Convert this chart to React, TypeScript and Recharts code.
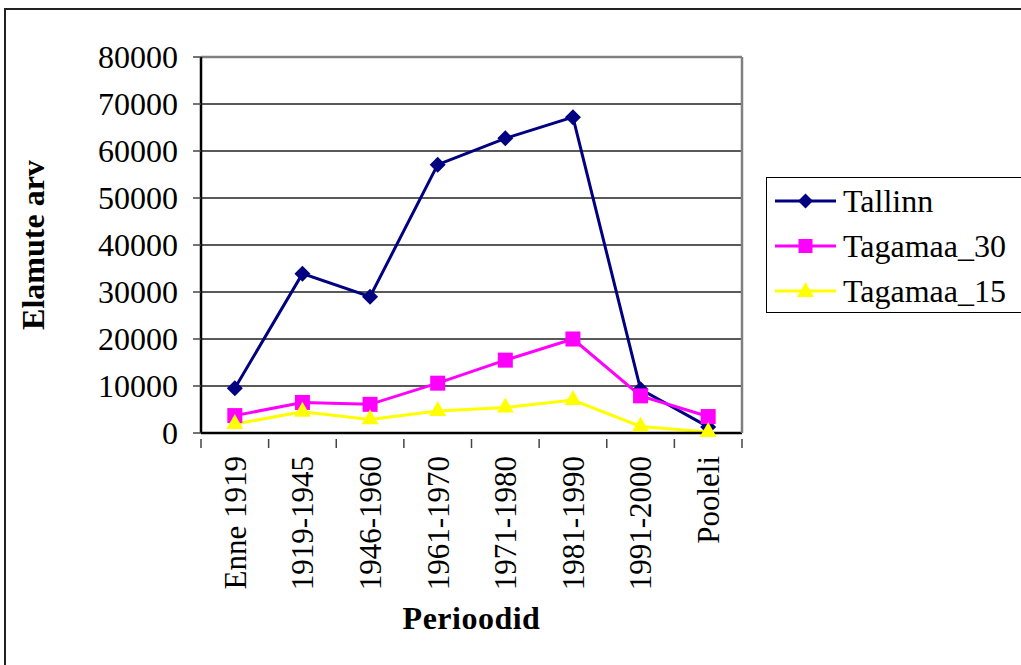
import React from 'react';
import { LineChart, Line, XAxis, YAxis, CartesianGrid, ReferenceLine } from 'recharts';

const categories = ['Enne 1919', '1919-1945', '1946-1960', '1961-1970', '1971-1980', '1981-1990', '1991-2000', 'Pooleli'];
const tallinn = [9500, 33900, 29000, 57100, 62700, 67200, 9300, 1300];
const tagamaa30 = [3700, 6500, 6100, 10600, 15500, 20000, 7900, 3500];
const tagamaa15 = [1900, 4500, 2900, 4700, 5400, 7000, 1400, 200];
const yTicks = [0, 10000, 20000, 30000, 40000, 50000, 60000, 70000, 80000];
const seriesNames = ['Tallinn', 'Tagamaa_30', 'Tagamaa_15'];

const data = categories.map((c, i) => ({
  cat: c,
  Tallinn: tallinn[i],
  Tagamaa_30: tagamaa30[i],
  Tagamaa_15: tagamaa15[i],
}));

const W = 1021;
const H = 665;
const M_TOP = 57;
const M_RIGHT = 278;
const Y_W = 201;
const X_H = 232;
const PLOT_W = W - M_RIGHT - 1 - Y_W;
const STEP = PLOT_W / categories.length;
const FONT = 'Liberation Serif, Times New Roman, serif';

const NAVY = '#000080';
const MAGENTA = '#FF00FF';
const YELLOW = '#FFFF00';

const Diamond = ({ cx, cy, fill, r = 7 }: any) => {
  if (cx == null || cy == null) return null;
  return <polygon points={`${cx},${cy - r} ${cx + r},${cy} ${cx},${cy + r} ${cx - r},${cy}`} fill={fill} />;
};
const Square = ({ cx, cy, fill, s = 14 }: any) => {
  if (cx == null || cy == null) return null;
  return <rect x={cx - s / 2} y={cy - s / 2} width={s} height={s} fill={fill} />;
};
const Triangle = ({ cx, cy, fill, w = 16, h = 14 }: any) => {
  if (cx == null || cy == null) return null;
  return (
    <polygon
      points={`${cx},${cy - (h * 2) / 3} ${cx + w / 2},${cy + h / 3} ${cx - w / 2},${cy + h / 3}`}
      fill={fill}
    />
  );
};

const XTick = (props: any) => {
  const { x, y, payload, index } = props;
  const top = y;
  return (
    <g>
      <line x1={x - STEP / 2} y1={top - 2} x2={x - STEP / 2} y2={top + 7} stroke="#444" strokeWidth={1.5} />
      {index === categories.length - 1 && (
        <line x1={x + STEP / 2} y1={top - 2} x2={x + STEP / 2} y2={top + 7} stroke="#444" strokeWidth={1.5} />
      )}
      <text
        x={x}
        y={top + 15}
        transform={`rotate(-90, ${x}, ${top + 15})`}
        textAnchor="end"
        dy="0.35em"
        fontFamily={FONT}
        fontSize={31}
        fill="#000"
      >
        {payload.value}
      </text>
    </g>
  );
};

const YTitle = (props: any) => {
  const vb = props.viewBox || { x: 0, y: 0, width: 0, height: 0 };
  const cx = 33;
  const cy = vb.y + vb.height / 2;
  return (
    <text
      x={cx}
      y={cy}
      transform={`rotate(-90, ${cx}, ${cy})`}
      textAnchor="middle"
      dy="0.35em"
      fontFamily={FONT}
      fontWeight="bold"
      fontSize={32}
      fill="#000"
    >
      Elamute arv
    </text>
  );
};

const XTitle = (props: any) => {
  const vb = props.viewBox || { x: 0, y: 0, width: 0, height: 0 };
  const cx = vb.x + vb.width / 2;
  return (
    <text x={cx} y={629} textAnchor="middle" fontFamily={FONT} fontWeight="bold" fontSize={32} fill="#000" letterSpacing={0.5}>
      Perioodid
    </text>
  );
};

const legendMarkers = [
  { color: NAVY, shape: 'diamond' },
  { color: MAGENTA, shape: 'square' },
  { color: YELLOW, shape: 'triangle' },
];

const LegendBox = () => (
  <svg
    width={320}
    height={136}
    style={{ position: 'absolute', left: 766, top: 177, display: 'block' }}
  >
    <rect x={0.5} y={0.5} width={330} height={135} fill="#fff" stroke="#000" strokeWidth={1} />
    {seriesNames.map((name, i) => {
      const m = legendMarkers[i];
      const cy = 24 + i * 45;
      return (
        <g key={name}>
          <line x1={9} y1={cy} x2={70} y2={cy} stroke={m.color} strokeWidth={3} />
          {m.shape === 'diamond' && <Diamond cx={39.5} cy={cy} fill={m.color} r={7.5} />}
          {m.shape === 'square' && <Square cx={39.5} cy={cy} fill={m.color} s={14} />}
          {m.shape === 'triangle' && <Triangle cx={39.5} cy={cy + 1} fill={m.color} w={17} h={15} />}
          <text x={77} y={cy} dy="0.35em" fontFamily={FONT} fontSize={32} fill="#000">
            {name}
          </text>
        </g>
      );
    })}
  </svg>
);

export default function App() {
  return (
    <div style={{ position: 'absolute', left: 0, top: 0, width: W, height: H, overflow: 'hidden', background: '#fff' }}>
      <div
        style={{
          position: 'absolute',
          left: 4,
          top: 8,
          width: 1200,
          height: 900,
          border: '2px solid #222',
          boxSizing: 'border-box',
        }}
      />
      <div style={{ position: 'absolute', left: 0, top: 0 }}>
        <LineChart width={W} height={H} data={data} margin={{ top: M_TOP, right: M_RIGHT, bottom: 0, left: 0 }}>
          <CartesianGrid vertical={false} stroke="#222" strokeWidth={1.3} />
          <XAxis
            dataKey="cat"
            height={X_H}
            interval={0}
            padding={{ left: STEP / 2, right: STEP / 2 }}
            tick={<XTick />}
            tickLine={false}
            axisLine={{ stroke: '#000', strokeWidth: 2.5 }}
            label={<XTitle />}
          />
          <YAxis
            domain={[0, 80000]}
            ticks={yTicks}
            interval={0}
            width={Y_W}
            tickSize={8}
            tickMargin={15}
            tickLine={{ stroke: '#444', strokeWidth: 1.5 }}
            axisLine={{ stroke: '#000', strokeWidth: 2.5 }}
            tick={{ fontFamily: FONT, fontSize: 32, fill: '#000' }}
            label={<YTitle />}
          />
          <YAxis
            yAxisId="right"
            orientation="right"
            domain={[0, 80000]}
            width={1}
            tick={false}
            tickLine={false}
            axisLine={{ stroke: '#808080', strokeWidth: 2.5 }}
          />
          <ReferenceLine y={80000} stroke="#808080" strokeWidth={2.5} />
          <Line
            dataKey="Tallinn"
            stroke={NAVY}
            strokeWidth={3}
            dot={(p: any) => <Diamond key={`d${p.index}`} cx={p.cx} cy={p.cy} fill={NAVY} r={8} />}
            activeDot={false}
            isAnimationActive={false}
          />
          <Line
            dataKey="Tagamaa_30"
            stroke={MAGENTA}
            strokeWidth={3}
            dot={(p: any) => <Square key={`s${p.index}`} cx={p.cx} cy={p.cy} fill={MAGENTA} s={15} />}
            activeDot={false}
            isAnimationActive={false}
          />
          <Line
            dataKey="Tagamaa_15"
            stroke={YELLOW}
            strokeWidth={3}
            dot={(p: any) => <Triangle key={`t${p.index}`} cx={p.cx} cy={p.cy} fill={YELLOW} w={17} h={15} />}
            activeDot={false}
            isAnimationActive={false}
          />
        </LineChart>
      </div>
      <LegendBox />
    </div>
  );
}
